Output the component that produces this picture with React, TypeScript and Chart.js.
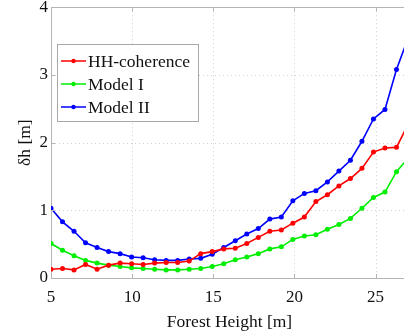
import React, { useEffect, useRef } from "react";
import { Chart, registerables } from "chart.js";

Chart.register(...registerables);

const heights = [
  5.0, 5.71, 6.419, 7.129, 7.839, 8.548, 9.258, 9.968, 10.677, 11.387, 12.097,
  12.806, 13.516, 14.226, 14.935, 15.645, 16.355, 17.065, 17.774, 18.484,
  19.194, 19.903, 20.613, 21.323, 22.032, 22.742, 23.452, 24.161, 24.871,
  25.581, 26.29, 27.0,
];

const hhCoherence = [
  0.13, 0.14, 0.12, 0.2, 0.13, 0.19, 0.22, 0.21, 0.2, 0.22, 0.23, 0.23, 0.25,
  0.36, 0.39, 0.43, 0.44, 0.51, 0.6, 0.69, 0.71, 0.81, 0.9, 1.13, 1.23, 1.36,
  1.47, 1.62, 1.86, 1.92, 1.93, 2.27,
];

const modelI = [
  0.51, 0.41, 0.33, 0.26, 0.22, 0.19, 0.17, 0.15, 0.14, 0.13, 0.12, 0.12, 0.13,
  0.14, 0.17, 0.21, 0.27, 0.31, 0.36, 0.43, 0.46, 0.57, 0.62, 0.64, 0.72, 0.79,
  0.88, 1.03, 1.19, 1.27, 1.57, 1.77,
];

const modelII = [
  1.03, 0.83, 0.69, 0.52, 0.45, 0.39, 0.36, 0.31, 0.3, 0.27, 0.26, 0.26, 0.28,
  0.29, 0.35, 0.45, 0.55, 0.65, 0.73, 0.87, 0.9, 1.14, 1.25, 1.29, 1.42, 1.58,
  1.74, 2.02, 2.35, 2.49, 3.08, 3.54,
];

const seriesLabels = ["HH-coherence", "Model I", "Model II"];
const seriesColors = ["#ff0000", "#00ee00", "#0000ff"];
const xTickValues = [5, 10, 15, 20, 25];
const yTickValues = [0, 1, 2, 3, 4];

const FONT = "'Liberation Serif', 'DejaVu Serif', serif";
const AXIS_COLOR = "#b4b4b4";

const boxPlugin = {
  id: "boxAndTicks",
  beforeDatasetsDraw(chart: any) {
    const { ctx, chartArea } = chart;
    const { left, right, top, bottom } = chartArea;
    const xs = chart.scales.x;
    const ys = chart.scales.y;
    ctx.save();
    ctx.strokeStyle = "#cfcfcf";
    ctx.lineWidth = 1;
    ctx.setLineDash([1, 3]);
    ctx.beginPath();
    for (const v of xTickValues.slice(1)) {
      const px = Math.round(xs.getPixelForValue(v)) + 0.5;
      ctx.moveTo(px, top);
      ctx.lineTo(px, bottom);
    }
    for (const v of yTickValues.slice(1, -1)) {
      const py = Math.round(ys.getPixelForValue(v)) + 0.5;
      ctx.moveTo(left, py);
      ctx.lineTo(right, py);
    }
    ctx.stroke();
    ctx.restore();
  },
  afterDatasetsDraw(chart: any) {
    const { ctx, chartArea } = chart;
    const { left, right, top, bottom } = chartArea;
    const xs = chart.scales.x;
    const ys = chart.scales.y;
    ctx.save();
    ctx.strokeStyle = AXIS_COLOR;
    ctx.lineWidth = 1;
    ctx.beginPath();
    ctx.moveTo(left, Math.round(top) + 0.5);
    ctx.lineTo(right, Math.round(top) + 0.5);
    ctx.stroke();
    ctx.beginPath();
    for (const v of xTickValues) {
      const px = Math.round(xs.getPixelForValue(v)) + 0.5;
      ctx.moveTo(px, bottom);
      ctx.lineTo(px, bottom - 4);
      ctx.moveTo(px, top);
      ctx.lineTo(px, top + 4);
    }
    for (const v of yTickValues) {
      const py = Math.round(ys.getPixelForValue(v)) + 0.5;
      ctx.moveTo(left, py);
      ctx.lineTo(left + 4, py);
    }
    ctx.stroke();
    ctx.restore();
  },
  afterDraw(chart: any) {
    const { ctx } = chart;
    const bx = 57.5;
    const by = 44.5;
    const bw = 141;
    const bh = 77;
    ctx.save();
    ctx.fillStyle = "#ffffff";
    ctx.fillRect(bx, by, bw, bh);
    ctx.strokeStyle = "#a8a8a8";
    ctx.lineWidth = 1;
    ctx.strokeRect(bx, by, bw, bh);
    ctx.font = `17.5px ${FONT}`;
    ctx.textBaseline = "middle";
    ctx.textAlign = "left";
    const rows = [61, 84, 107];
    seriesLabels.forEach((lab, i) => {
      const y = rows[i];
      ctx.strokeStyle = seriesColors[i];
      ctx.lineWidth = 1.5;
      ctx.beginPath();
      ctx.moveTo(61, y);
      ctx.lineTo(86, y);
      ctx.stroke();
      ctx.fillStyle = seriesColors[i];
      ctx.beginPath();
      ctx.arc(73.5, y, 2.2, 0, Math.PI * 2);
      ctx.fill();
      ctx.fillStyle = "#111111";
      ctx.fillText(lab, 88, y + 1);
    });
    ctx.restore();
  },
};

export default function App() {
  const canvasRef = useRef<HTMLCanvasElement | null>(null);

  useEffect(() => {
    if (!canvasRef.current) return;
    const seriesData = [hhCoherence, modelI, modelII];
    const chart = new Chart(canvasRef.current, {
      type: "line",
      data: {
        datasets: seriesData.map((vals, i) => ({
          label: seriesLabels[i],
          data: heights.map((h, j) => ({ x: h, y: vals[j] })),
          borderColor: seriesColors[i],
          backgroundColor: seriesColors[i],
          borderWidth: 1.6,
          pointRadius: 2.5,
          pointBorderWidth: 0,
          pointHoverRadius: 2.5,
          tension: 0,
          fill: false,
        })),
      },
      options: {
        animation: false,
        responsive: false,
        maintainAspectRatio: false,
        events: [],
        layout: { padding: { top: 6, right: 4, left: 0, bottom: 0 } },
        plugins: {
          legend: { display: false },
          tooltip: { enabled: false },
        },
        scales: {
          x: {
            type: "linear",
            min: 5,
            max: 27,
            afterBuildTicks: (scale: any) => {
              scale.ticks = xTickValues.map((v) => ({ value: v }));
            },
            afterFit: (scale: any) => {
              scale.height = 53;
            },
            ticks: {
              color: "#111111",
              font: { family: FONT, size: 17, lineHeight: 1.2 },
              padding: 9,
              maxRotation: 0,
            },
            grid: { display: false, drawTicks: false },
            border: { color: AXIS_COLOR, width: 1 },
            title: {
              display: true,
              text: "Forest Height [m]",
              color: "#111111",
              font: { family: FONT, size: 17.5, lineHeight: 1.0 },
              padding: { top: 0, bottom: 0 },
            },
          },
          y: {
            type: "linear",
            min: 0,
            max: 4,
            afterBuildTicks: (scale: any) => {
              scale.ticks = yTickValues.map((v) => ({ value: v }));
            },
            afterFit: (scale: any) => {
              scale.width = 51;
            },
            ticks: {
              color: "#111111",
              font: { family: FONT, size: 17, lineHeight: 0.5 },
              padding: 3,
            },
            grid: { display: false, drawTicks: false },
            border: { color: AXIS_COLOR, width: 1 },
            title: {
              display: true,
              text: "δh [m]",
              color: "#111111",
              font: { family: FONT, size: 17.5, lineHeight: 1.2 },
              padding: { top: 14.5, bottom: 0 },
            },
          },
        },
      },
      plugins: [boxPlugin],
    });
    return () => chart.destroy();
  }, []);

  return (
    <div
      style={{
        position: "absolute",
        left: 0,
        top: 0,
        width: 404,
        height: 331,
        overflow: "hidden",
        background: "#ffffff",
      }}
    >
      <canvas
        ref={canvasRef}
        width={412}
        height={331}
        style={{ width: 412, height: 331, display: "block" }}
      />
    </div>
  );
}
